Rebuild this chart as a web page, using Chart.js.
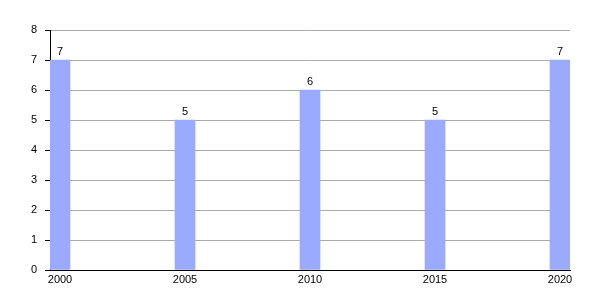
<!DOCTYPE html>
<html>
<head>
<meta charset="utf-8">
<script src="https://cdn.jsdelivr.net/npm/chart.js@4"></script>
<style>
html,body{margin:0;padding:0;background:#fff;}
#wrap{width:600px;height:300px;}
</style>
</head>
<body>
<div id="wrap"><canvas id="c" width="600" height="300"></canvas></div>
<script>
const years = [2000, 2005, 2010, 2015, 2020];
const values = [7, 5, 6, 5, 7];
const yTicks = [0, 1, 2, 3, 4, 5, 6, 7, 8];

const FONT = {family: '"Liberation Sans", Arial, sans-serif', size: 11};

const valueLabels = {
  id: 'valueLabels',
  afterDatasetsDraw(chart) {
    const ctx = chart.ctx;
    const meta = chart.getDatasetMeta(0);
    ctx.save();
    ctx.font = '11px "Liberation Sans", Arial, sans-serif';
    ctx.fillStyle = '#000';
    ctx.textAlign = 'center';
    ctx.textBaseline = 'alphabetic';
    meta.data.forEach((el, i) => {
      ctx.fillText(String(values[i]), el.x, el.y - 5);
    });
    ctx.restore();
  }
};

new Chart(document.getElementById('c'), {
  type: 'bar',
  data: {
    datasets: [{
      data: years.map((y, i) => ({x: y, y: values[i]})),
      backgroundColor: '#99aaff',
      borderWidth: 0,
      barThickness: 20
    }]
  },
  options: {
    responsive: false,
    animation: false,
    layout: {padding: {top: 30, right: 30, left: 0, bottom: 0}},
    plugins: {legend: {display: false}, tooltip: {enabled: false}},
    scales: {
      x: {
        type: 'linear',
        min: 1999.6,
        max: 2020.4,
        offset: false,
        afterBuildTicks(scale) { scale.ticks = years.map(v => ({value: v})); },
        afterFit(scale) { scale.height = 30; },
        grid: {display: false, drawTicks: false},
        border: {display: true, color: '#000', width: 1},
        ticks: {
          color: '#000', font: FONT, padding: 3, maxRotation: 0, autoSkip: false,
          callback: v => String(v)
        }
      },
      y: {
        min: 0,
        max: 8,
        afterBuildTicks(scale) { scale.ticks = yTicks.map(v => ({value: v})); },
        afterFit(scale) { scale.width = 50; },
        grid: {color: '#aaaaaa', tickColor: '#000', tickLength: 5, lineWidth: 1},
        border: {display: true, color: '#000', width: 1},
        ticks: {color: '#000', font: FONT, padding: 8}
      }
    }
  },
  plugins: [valueLabels]
});
</script>
</body>
</html>
